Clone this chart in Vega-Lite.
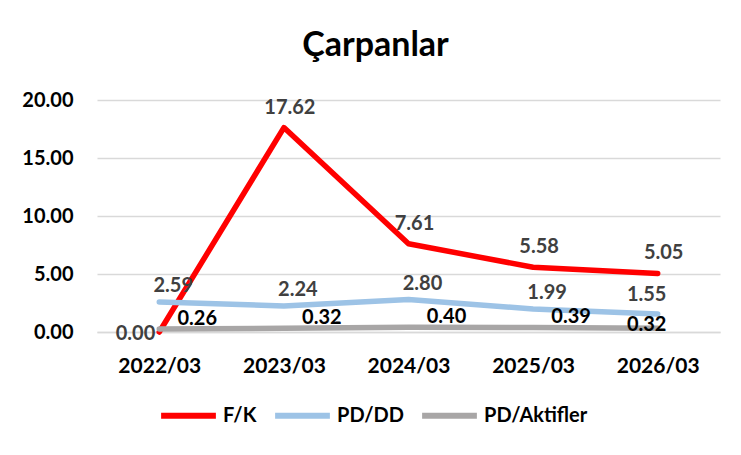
{
  "$schema": "https://vega.github.io/schema/vega-lite/v6.json",
  "width": 623,
  "height": 232,
  "autosize": {"type": "none"},
  "padding": {"left": 97, "top": 100, "right": 21, "bottom": 123},
  "background": "white",
  "title": {
    "text": "Çarpanlar",
    "font": "Lato",
    "fontSize": 34,
    "fontWeight": "bold",
    "color": "#000000",
    "anchor": "middle",
    "frame": "group",
    "dx": -33,
    "offset": 27
  },
  "data": {
    "values": [
      {"period": "2022/03", "series": "F/K", "value": 0.0},
      {"period": "2023/03", "series": "F/K", "value": 17.62},
      {"period": "2024/03", "series": "F/K", "value": 7.61},
      {"period": "2025/03", "series": "F/K", "value": 5.58},
      {"period": "2026/03", "series": "F/K", "value": 5.05},
      {"period": "2022/03", "series": "PD/DD", "value": 2.59},
      {"period": "2023/03", "series": "PD/DD", "value": 2.24},
      {"period": "2024/03", "series": "PD/DD", "value": 2.8},
      {"period": "2025/03", "series": "PD/DD", "value": 1.99},
      {"period": "2026/03", "series": "PD/DD", "value": 1.55},
      {"period": "2022/03", "series": "PD/Aktifler", "value": 0.26},
      {"period": "2023/03", "series": "PD/Aktifler", "value": 0.32},
      {"period": "2024/03", "series": "PD/Aktifler", "value": 0.4},
      {"period": "2025/03", "series": "PD/Aktifler", "value": 0.39},
      {"period": "2026/03", "series": "PD/Aktifler", "value": 0.32}
    ]
  },
  "encoding": {
    "x": {
      "field": "period",
      "type": "ordinal",
      "scale": {"type": "point", "padding": 0.5},
      "axis": {
        "title": null,
        "labelAngle": 0,
        "labelFont": "Lato",
        "labelFontSize": 21,
        "labelFontWeight": "bold",
        "labelColor": "#000000",
        "labelPadding": 23,
        "ticks": false,
        "domain": true,
        "domainColor": "#D9D9D9",
        "domainWidth": 1.5,
        "grid": false
      }
    },
    "y": {
      "field": "value",
      "type": "quantitative",
      "scale": {"domain": [0, 20], "nice": false},
      "axis": {
        "title": null,
        "values": [0, 5, 10, 15, 20],
        "format": ".2f",
        "labelFont": "Lato",
        "labelFontSize": 20,
        "labelFontWeight": "bold",
        "labelColor": "#000000",
        "labelPadding": 24,
        "ticks": false,
        "domain": false,
        "grid": true,
        "gridColor": "#D9D9D9",
        "gridWidth": 1.5
      }
    }
  },
  "layer": [
    {
      "mark": {"type": "line", "strokeWidth": 5.5, "strokeCap": "round", "strokeJoin": "round"},
      "encoding": {
        "color": {
          "field": "series",
          "type": "nominal",
          "sort": ["F/K", "PD/DD", "PD/Aktifler"],
          "scale": {"domain": ["F/K", "PD/DD", "PD/Aktifler"], "range": ["#FF0000", "#9DC3E6", "#A8A6A6"]},
          "legend": {
            "title": null,
            "orient": "none",
            "direction": "horizontal",
            "legendX": 61,
            "legendY": 285,
            "padding": 0,
            "symbolType": "stroke",
            "symbolSize": 3000,
            "symbolStrokeWidth": 6,
            "labelFont": "Lato",
            "labelFontSize": 20,
            "labelFontWeight": "bold",
            "labelColor": "#000000",
            "labelOffset": 4,
            "columnPadding": 6
          }
        },
        "order": {"field": "series", "type": "nominal"}
      }
    },
    {
      "transform": [{"filter": "datum.series == 'F/K' && datum.period != '2022/03'"}],
      "mark": {"type": "text", "font": "Lato", "fontSize": 20, "fontWeight": "bold", "color": "#404040", "dx": 6, "dy": -20},
      "encoding": {"text": {"field": "value", "type": "quantitative", "format": ".2f"}}
    },
    {
      "transform": [{"filter": "datum.series == 'F/K' && datum.period == '2022/03'"}],
      "mark": {"type": "text", "font": "Lato", "fontSize": 20, "fontWeight": "bold", "color": "#404040", "align": "right", "dx": -4, "dy": 2},
      "encoding": {"text": {"field": "value", "type": "quantitative", "format": ".2f"}}
    },
    {
      "transform": [{"filter": "datum.series == 'PD/DD' && datum.period != '2026/03'"}],
      "mark": {"type": "text", "font": "Lato", "fontSize": 20, "fontWeight": "bold", "color": "#404040", "dx": 14, "dy": -16},
      "encoding": {"text": {"field": "value", "type": "quantitative", "format": ".2f"}}
    },
    {
      "transform": [{"filter": "datum.series == 'PD/DD' && datum.period == '2026/03'"}],
      "mark": {"type": "text", "font": "Lato", "fontSize": 20, "fontWeight": "bold", "color": "#404040", "dx": -11, "dy": -19},
      "encoding": {"text": {"field": "value", "type": "quantitative", "format": ".2f"}}
    },
    {
      "transform": [{"filter": "datum.series == 'PD/Aktifler' && datum.period != '2026/03'"}],
      "mark": {"type": "text", "font": "Lato", "fontSize": 20, "fontWeight": "bold", "color": "#000000", "dx": 38, "dy": -10},
      "encoding": {"text": {"field": "value", "type": "quantitative", "format": ".2f"}}
    },
    {
      "transform": [{"filter": "datum.series == 'PD/Aktifler' && datum.period == '2026/03'"}],
      "mark": {"type": "text", "font": "Lato", "fontSize": 20, "fontWeight": "bold", "color": "#000000", "dx": -11, "dy": -3},
      "encoding": {"text": {"field": "value", "type": "quantitative", "format": ".2f"}}
    }
  ],
  "config": {
    "view": {"stroke": null}
  }
}
